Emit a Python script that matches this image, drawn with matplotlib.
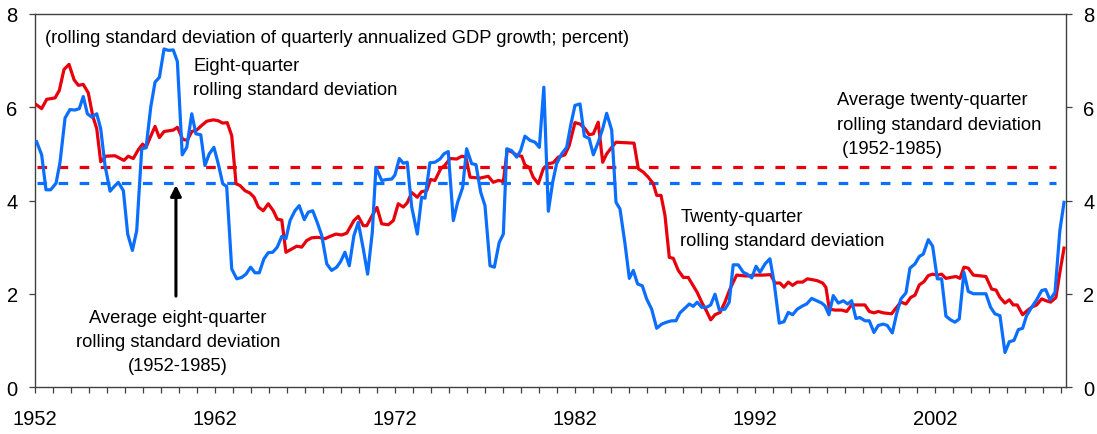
import matplotlib
matplotlib.use("Agg")
import matplotlib.pyplot as plt
from matplotlib.ticker import MultipleLocator, FixedLocator

plt.rcParams['font.family'] = ['Liberation Sans', 'DejaVu Sans']

# Twenty-quarter rolling standard deviation (red)
red_years = [1952.09, 1952.37, 1952.65, 1953.11, 1953.35, 1953.61, 1953.89, 1954.17, 1954.41, 1954.68,
             1954.96, 1955.21, 1955.43, 1955.65, 1955.94, 1956.44, 1956.94, 1957.18, 1957.46, 1957.74,
             1957.98, 1958.17, 1958.43, 1958.67, 1958.91, 1959.17, 1959.68, 1959.91, 1960.21, 1960.46,
             1960.71, 1960.98, 1961.26, 1961.54, 1961.91, 1962.18, 1962.43, 1962.68, 1962.93, 1963.17,
             1963.39, 1963.67, 1963.94, 1964.17, 1964.41, 1964.68, 1964.96, 1965.24, 1965.46, 1965.71,
             1965.94, 1966.26, 1966.54, 1966.82, 1967.09, 1967.37, 1967.74, 1968.11, 1968.39, 1968.72,
             1969.04, 1969.32, 1969.72, 1969.96, 1970.24, 1970.43, 1970.71, 1971.0, 1971.26, 1971.63,
             1971.91, 1972.18, 1972.46, 1972.68, 1972.93, 1973.24, 1973.48, 1973.76, 1973.98, 1974.22,
             1974.54, 1974.78, 1975.06, 1975.43, 1975.71, 1975.94, 1976.17, 1976.72, 1977.18, 1977.46,
             1977.74, 1978.02, 1978.24, 1978.54, 1978.76, 1979.04, 1979.22, 1979.46, 1979.68, 1979.96,
             1980.24, 1980.52, 1980.79, 1981.07, 1981.44, 1981.68, 1982.0, 1982.28, 1982.56, 1982.79,
             1983.02, 1983.29, 1983.54, 1983.76, 1984.04, 1984.28, 1985.28, 1985.52, 1985.79, 1986.07,
             1986.35, 1986.54, 1986.78, 1987.0, 1987.24, 1987.46, 1987.74, 1988.02, 1988.29, 1988.54,
             1988.79, 1989.04, 1989.32, 1989.54, 1989.78, 1990.06, 1990.33, 1990.61, 1990.98, 1991.54,
             1992.0, 1992.46, 1992.87, 1993.11, 1993.39, 1993.61, 1993.85, 1994.09, 1994.35, 1994.65,
             1994.91, 1995.21, 1995.46, 1995.76, 1995.94, 1996.13, 1996.44, 1996.82, 1997.09, 1997.37,
             1998.11, 1998.35, 1998.61, 1998.85, 1999.13, 1999.59, 1999.87, 2000.11, 2000.39, 2000.65,
             2000.89, 2001.13, 2001.39, 2001.63, 2001.87, 2002.13, 2002.37, 2002.61, 2002.87, 2003.17,
             2003.39, 2003.61, 2003.85, 2004.13, 2004.83, 2005.15, 2005.39, 2005.61, 2005.89, 2006.13,
             2006.35, 2006.57, 2006.87, 2007.13, 2007.37, 2007.65, 2007.93, 2008.17, 2008.43, 2008.72,
             2008.94, 2009.17]
red_values = [6.05, 5.97, 6.17, 6.20, 6.36, 6.81, 6.92, 6.59, 6.47, 6.49,
              6.31, 5.81, 5.54, 4.83, 4.95, 4.96, 4.86, 4.95, 4.90, 5.09,
              5.21, 5.14, 5.38, 5.59, 5.35, 5.48, 5.51, 5.57, 5.31, 5.29,
              5.48, 5.51, 5.61, 5.70, 5.73, 5.71, 5.66, 5.67, 5.39, 4.36,
              4.32, 4.21, 4.16, 4.07, 3.86, 3.78, 3.93, 3.78, 3.60, 3.58,
              2.89, 2.96, 3.02, 3.00, 3.14, 3.20, 3.21, 3.18, 3.23, 3.28,
              3.26, 3.30, 3.57, 3.66, 3.46, 3.46, 3.66, 3.85, 3.50, 3.48,
              3.57, 3.93, 3.86, 3.95, 4.17, 4.07, 4.19, 4.21, 4.45, 4.43,
              4.68, 4.76, 4.90, 4.89, 4.95, 4.93, 4.50, 4.48, 4.52, 4.39,
              4.43, 4.41, 5.09, 5.03, 4.97, 4.95, 4.76, 4.71, 4.50, 4.36,
              4.68, 4.79, 4.81, 4.93, 4.98, 5.18, 5.67, 5.64, 5.54, 5.41,
              5.43, 5.68, 4.82, 5.00, 5.14, 5.25, 5.23, 4.68, 4.61, 4.50,
              4.36, 4.11, 4.11, 3.68, 2.78, 2.76, 2.50, 2.35, 2.35, 2.19,
              2.03, 1.82, 1.62, 1.44, 1.55, 1.60, 1.82, 2.10, 2.40, 2.38,
              2.40, 2.40, 2.41, 2.23, 2.23, 2.14, 2.25, 2.18, 2.25, 2.25,
              2.32, 2.30, 2.28, 2.23, 2.14, 1.67, 1.65, 1.65, 1.62, 1.76,
              1.76, 1.62, 1.59, 1.62, 1.59, 1.57, 1.71, 1.82, 1.78, 1.92,
              1.97, 2.19, 2.26, 2.39, 2.42, 2.40, 2.42, 2.33, 2.35, 2.37,
              2.33, 2.57, 2.55, 2.40, 2.37, 2.10, 2.08, 1.92, 1.80, 1.87,
              1.76, 1.76, 1.55, 1.64, 1.71, 1.76, 1.89, 1.85, 1.82, 1.92,
              2.46, 2.98]

# Eight-quarter rolling standard deviation (blue)
blue_years = [1952.09, 1952.37, 1952.61, 1952.87, 1953.17, 1953.39, 1953.67, 1953.94, 1954.22, 1954.46,
              1954.68, 1954.91, 1955.15, 1955.43, 1955.65, 1955.89, 1956.17, 1956.35, 1956.63, 1956.91,
              1957.15, 1957.41, 1957.65, 1957.93, 1958.17, 1958.43, 1958.67, 1958.91, 1959.17, 1959.41,
              1959.68, 1959.91, 1960.18, 1960.43, 1960.71, 1960.94, 1961.21, 1961.44, 1961.68, 1961.94,
              1962.18, 1962.43, 1962.65, 1962.93, 1963.21, 1963.48, 1963.72, 1963.98, 1964.22, 1964.46,
              1964.72, 1964.96, 1965.21, 1965.46, 1965.71, 1965.94, 1966.17, 1966.44, 1966.68, 1966.96,
              1967.18, 1967.43, 1967.68, 1967.93, 1968.21, 1968.48, 1968.76, 1968.98, 1969.22, 1969.46,
              1969.72, 1969.96, 1970.24, 1970.48, 1970.74, 1970.94, 1971.26, 1971.54, 1971.82, 1972.0,
              1972.24, 1972.46, 1972.68, 1972.93, 1973.24, 1973.48, 1973.67, 1973.94, 1974.22, 1974.5,
              1974.72, 1974.96, 1975.24, 1975.48, 1975.76, 1975.98, 1976.26, 1976.5, 1976.76, 1977.0,
              1977.28, 1977.52, 1977.79, 1978.02, 1978.21, 1978.48, 1978.76, 1978.98, 1979.22, 1979.5,
              1979.78, 1980.02, 1980.27, 1980.52, 1980.76, 1980.98, 1981.26, 1981.54, 1981.76, 1982.0,
              1982.28, 1982.52, 1982.79, 1983.02, 1983.29, 1983.54, 1983.76, 1984.04, 1984.28, 1984.5,
              1984.78, 1985.02, 1985.24, 1985.48, 1985.74, 1985.98, 1986.26, 1986.54, 1986.82, 1987.09,
              1987.37, 1987.61, 1987.83, 1988.11, 1988.35, 1988.57, 1988.79, 1989.04, 1989.32, 1989.54,
              1989.78, 1990.02, 1990.33, 1990.57, 1990.79, 1991.07, 1991.35, 1991.57, 1991.82, 1992.06,
              1992.28, 1992.56, 1992.83, 1993.06, 1993.35, 1993.61, 1993.85, 1994.09, 1994.35, 1994.65,
              1994.87, 1995.15, 1995.43, 1995.71, 1995.89, 1996.11, 1996.35, 1996.63, 1996.91, 1997.15,
              1997.37, 1997.61, 1997.83, 1998.11, 1998.35, 1998.61, 1998.85, 1999.13, 1999.35, 1999.63,
              1999.87, 2000.11, 2000.39, 2000.61, 2000.89, 2001.13, 2001.35, 2001.63, 2001.87, 2002.13,
              2002.37, 2002.61, 2002.87, 2003.11, 2003.35, 2003.61, 2003.85, 2004.13, 2004.83, 2005.09,
              2005.33, 2005.61, 2005.89, 2006.13, 2006.39, 2006.63, 2006.87, 2007.09, 2007.37, 2007.65,
              2007.93, 2008.15, 2008.39, 2008.67, 2008.94, 2009.17]
blue_values = [5.26, 4.98, 4.23, 4.23, 4.37, 4.82, 5.77, 5.95, 5.94, 5.97,
               6.23, 5.86, 5.79, 5.86, 5.54, 4.75, 4.20, 4.28, 4.39, 4.21,
               3.28, 2.93, 3.35, 5.11, 5.13, 6.00, 6.54, 6.64, 7.25, 7.22,
               7.23, 6.98, 4.98, 5.14, 5.86, 5.43, 5.41, 4.75, 5.00, 5.14,
               4.79, 4.36, 4.30, 2.53, 2.32, 2.35, 2.42, 2.57, 2.45, 2.45,
               2.75, 2.88, 2.89, 3.00, 3.23, 3.18, 3.57, 3.78, 3.89, 3.59,
               3.75, 3.78, 3.53, 3.25, 2.64, 2.50, 2.57, 2.69, 2.89, 2.60,
               3.25, 3.53, 2.96, 2.42, 3.32, 4.71, 4.43, 4.45, 4.46, 4.55,
               4.90, 4.80, 4.82, 3.86, 3.28, 4.07, 4.05, 4.81, 4.82, 4.89,
               5.00, 5.05, 3.57, 3.96, 4.28, 5.11, 4.79, 4.77, 4.18, 3.89,
               2.60, 2.57, 3.10, 3.28, 5.11, 5.07, 4.93, 5.07, 5.38, 5.29,
               5.25, 5.14, 6.43, 3.77, 4.39, 4.79, 5.00, 5.14, 5.61, 6.04,
               6.07, 5.38, 5.33, 4.98, 5.25, 5.54, 5.87, 5.51, 3.96, 3.82,
               3.07, 2.33, 2.50, 2.21, 2.17, 1.89, 1.67, 1.26, 1.35, 1.39,
               1.42, 1.42, 1.59, 1.69, 1.78, 1.73, 1.82, 1.71, 1.71, 1.76,
               1.99, 1.65, 1.67, 1.82, 2.62, 2.62, 2.46, 2.42, 2.34, 2.59,
               2.46, 2.64, 2.75, 2.25, 1.37, 1.40, 1.60, 1.55, 1.67, 1.74,
               1.78, 1.90, 1.85, 1.80, 1.74, 1.55, 1.96, 1.80, 1.85, 1.78,
               1.85, 1.47, 1.49, 1.42, 1.42, 1.17, 1.32, 1.35, 1.32, 1.16,
               1.57, 1.89, 2.02, 2.55, 2.64, 2.80, 2.85, 3.16, 3.02, 2.32,
               2.32, 1.52, 1.44, 1.39, 1.46, 2.46, 2.05, 2.00, 2.00, 1.71,
               1.57, 1.53, 0.74, 0.97, 1.00, 1.23, 1.26, 1.53, 1.71, 1.87,
               2.07, 2.09, 1.87, 2.03, 3.36, 3.96]

avg_twenty = 4.71
avg_eight = 4.38

year_labels = ['1952', '1962', '1972', '1982', '1992', '2002']
y_ticks = [0, 2, 4, 6, 8]

RED = '#E8000B'
BLUE = '#0A6EFF'

fig = plt.figure(figsize=(10.97, 4.35), dpi=100)
ax = fig.add_axes([35/1097, 1-388/435, (1066-35)/1097, (388-15)/435])

ax.plot(red_years, red_values, color=RED, lw=2.3, solid_joinstyle='round', zorder=3)
ax.plot(blue_years, blue_values, color=BLUE, lw=2.3, solid_joinstyle='round', zorder=4)

ax.plot([1952.1, 2008.7], [avg_twenty, avg_twenty], color=RED, lw=2.3, dashes=(3.0, 3.6), zorder=2)
ax.plot([1952.1, 2008.7], [avg_eight, avg_eight], color=BLUE, lw=2.3, dashes=(3.0, 3.6), zorder=2)

ax.set_xlim(1952, 2009.28)
ax.set_ylim(0, 8)

ax.xaxis.set_major_locator(FixedLocator([int(s) for s in year_labels]))
ax.set_xticklabels(year_labels)
ax.xaxis.set_minor_locator(MultipleLocator(1))
ax.set_yticks(y_ticks)

for s in ax.spines.values():
    s.set_color('#404040')
    s.set_linewidth(1.0)

ax.tick_params(axis='x', which='both', direction='out', length=4.5, width=0.9, color='#404040',
               labelsize=14.5, pad=11)
ax.tick_params(axis='y', which='major', direction='out', length=4.5, width=0.9, color='#404040',
               labelsize=14.5, pad=8, left=True, right=True, labelleft=True, labelright=True)

fs = 13.2
ls = 1.55
ax.text(1952.55, 7.49, '(rolling standard deviation of quarterly annualized GDP growth; percent)',
        fontsize=fs, ha='left', va='center')
ax.text(1960.8, 6.63, 'Eight-quarter\nrolling standard deviation', fontsize=fs, ha='left', va='center',
        linespacing=ls)
ax.text(1959.95, 0.97, 'Average eight-quarter\nrolling standard deviation\n(1952-1985)', fontsize=fs,
        ha='center', va='center', linespacing=ls)
ax.text(1996.55, 5.64, 'Average twenty-quarter\nrolling standard deviation\n (1952-1985)', fontsize=fs,
        ha='left', va='center', linespacing=ls)
ax.text(1987.85, 3.40, 'Twenty-quarter\nrolling standard deviation', fontsize=fs, ha='left', va='center',
        linespacing=ls)

ax.annotate('', xy=(1959.83, avg_eight - 0.05), xytext=(1959.83, 1.95),
            arrowprops=dict(arrowstyle='-|>', color='black', lw=2.2, mutation_scale=16,
                            shrinkA=0, shrinkB=0))

fig.savefig('out.png', dpi=100)
